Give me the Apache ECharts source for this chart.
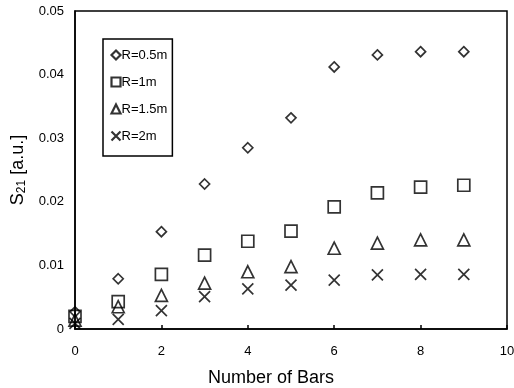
<!DOCTYPE html>
<html>
<head>
<meta charset="utf-8">
<script src="https://cdn.jsdelivr.net/npm/echarts@6/dist/echarts.min.js"></script>
<style>
html, body { margin: 0; padding: 0; background: #fff; }
#chart { width: 514px; height: 388px; }
</style>
</head>
<body>
<div id="chart"></div>
<script>
const bars = [0, 1, 2, 3, 4, 5, 6, 7, 8, 9];
const r05 = [0.0027, 0.0079, 0.0153, 0.0228, 0.0285, 0.0332, 0.0412, 0.0431, 0.0436, 0.0436];
const r10 = [0.0020, 0.0043, 0.0086, 0.0116, 0.0138, 0.0154, 0.0192, 0.0214, 0.0223, 0.0226];
const r15 = [0.0014, 0.0035, 0.0053, 0.0072, 0.0090, 0.0098, 0.0127, 0.0135, 0.0140, 0.0140];
const r20 = [0.0009, 0.0015, 0.0029, 0.0051, 0.0063, 0.0069, 0.0077, 0.0085, 0.0086, 0.0086];
const names = ['R=0.5m', 'R=1m', 'R=1.5m', 'R=2m'];

const font = 'Liberation Sans, Arial, sans-serif';
const diamond = 'path://M5,0L10,5L5,10L0,5Z';
const cross = 'path://M0,0L10,10M10,0L0,10';

const mkSeries = (name, vals, symbol, size)=>{
    return {
        name,
        type: 'scatter',
        data: bars.map((b, i)=>[b, vals[i]]),
        symbol,
        symbolSize: size,
        itemStyle: {
            color: 'none',
            borderColor: '#000',
            borderWidth: 1.7
        }
    };
};

let chart = echarts.init(document.getElementById('chart'));
chart.setOption({
    animation: false,
    grid: {
        left: 75,
        right: 7,
        top: 11,
        bottom: 59,
        outerBoundsMode: 'none',
        show: true,
        borderColor: '#000',
        borderWidth: 1.5
    },
    legend: {
        orient: 'vertical',
        left: 103,
        top: 39,
        data: names,
        itemWidth: 9,
        itemHeight: 9,
        itemGap: 13,
        padding: [9, 5, 13, 6],
        borderColor: '#000',
        borderWidth: 1.5,
        backgroundColor: '#fff',
        itemStyle: { borderWidth: 2.2 },
        textStyle: {
            fontFamily: font,
            fontSize: 13,
            color: '#000',
            padding: [0, 0, 0, -4]
        }
    },
    xAxis: {
        type: 'value',
        min: 0,
        max: 10,
        interval: 2,
        name: 'Number of Bars',
        nameLocation: 'middle',
        nameGap: 40,
        nameTextStyle: { fontFamily: font, fontSize: 18, color: '#000', padding: [0, 40, 0, 0] },
        splitLine: { show: false },
        axisLine: { lineStyle: { color: '#000', width: 1.5 } },
        axisTick: { inside: true, length: 4, lineStyle: { color: '#000', width: 1.5 } },
        axisLabel: { fontFamily: font, fontSize: 13, color: '#000', margin: 16 }
    },
    yAxis: {
        type: 'value',
        min: 0,
        max: 0.05,
        interval: 0.01,
        name: '{a|S}{b|21}{a| [a.u.]}',
        nameLocation: 'middle',
        nameGap: 46,
        nameTextStyle: {
            fontFamily: font,
            fontSize: 18,
            color: '#000',
            rich: {
                a: { fontFamily: font, fontSize: 18, color: '#000' },
                b: { fontFamily: font, fontSize: 12, color: '#000', verticalAlign: 'bottom', padding: [7, 0, 0, 0] }
            }
        },
        splitLine: { show: false },
        axisLine: { show: true, lineStyle: { color: '#000', width: 1.5 } },
        axisTick: { show: false },
        axisLabel: {
            fontFamily: font,
            fontSize: 13,
            color: '#000',
            margin: 11,
            formatter: (v)=> v === 0 ? '0' : v.toFixed(2)
        }
    },
    series: [
        mkSeries(names[0], r05, diamond, 10),
        mkSeries(names[1], r10, 'rect', 12),
        mkSeries(names[2], r15, 'triangle', 12),
        mkSeries(names[3], r20, cross, 11)
    ]
});
</script>
</body>
</html>
